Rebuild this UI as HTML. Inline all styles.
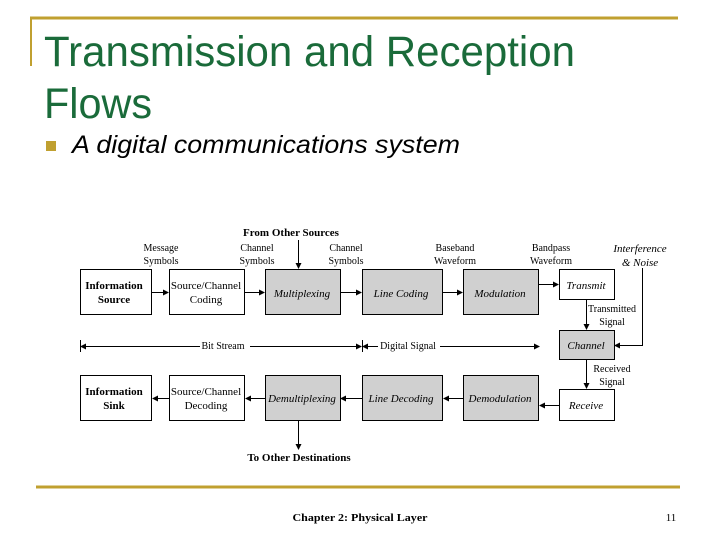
<!DOCTYPE html>
<html><head><meta charset="utf-8"><style>
html,body{margin:0;padding:0;background:#fff;}
svg{display:block;}
.s{font-family:"Liberation Serif",serif;font-size:10px;fill:#000;}
.b{font-family:"Liberation Serif",serif;font-size:11px;font-weight:bold;fill:#000;}
.i{font-family:"Liberation Serif",serif;font-size:11px;font-style:italic;fill:#000;}
.n{font-family:"Liberation Serif",serif;font-size:11px;fill:#000;}
</style></head><body>
<svg width="720" height="540" viewBox="0 0 720 540" xmlns="http://www.w3.org/2000/svg">
<defs><marker id="a" markerWidth="6" markerHeight="6" refX="5" refY="3" orient="auto" markerUnits="userSpaceOnUse"><path d="M0,0 L6,3 L0,6z" fill="#000"/></marker></defs>
<rect x="0" y="0" width="720" height="540" fill="#fff"/>
<path d="M30,18 H678" stroke="#c0a030" stroke-width="3"/>
<path d="M31,18 V66" stroke="#c0a030" stroke-width="2"/>
<text x="44" y="66" font-family="Liberation Sans,sans-serif" font-size="43" fill="#1a6b3a" textLength="531" lengthAdjust="spacingAndGlyphs">Transmission and Reception</text>
<text x="44" y="118" font-family="Liberation Sans,sans-serif" font-size="43" fill="#1a6b3a" textLength="108" lengthAdjust="spacingAndGlyphs">Flows</text>
<rect x="46" y="141" width="10" height="10" fill="#c0a030"/>
<text x="72" y="153" font-family="Liberation Sans,sans-serif" font-size="25" font-style="italic" fill="#000" textLength="388" lengthAdjust="spacingAndGlyphs">A digital communications system</text>
<path d="M36,487 H680" stroke="#c0a030" stroke-width="3"/>
<text x="360" y="521" text-anchor="middle" class="n" font-size="12.5" font-weight="bold" textLength="135" lengthAdjust="spacingAndGlyphs">Chapter 2: Physical Layer</text>
<text x="671" y="521" text-anchor="middle" class="n" font-size="12.5">11</text>

<g stroke="#000" stroke-width="1" fill="none">
<rect x="80.5" y="269.5" width="71" height="45" fill="#fff"/>
<rect x="169.5" y="269.5" width="75" height="45" fill="#fff"/>
<rect x="265.5" y="269.5" width="75" height="45" fill="#d0d0d0"/>
<rect x="362.5" y="269.5" width="80" height="45" fill="#d0d0d0"/>
<rect x="463.5" y="269.5" width="75" height="45" fill="#d0d0d0"/>
<rect x="559.5" y="269.5" width="55" height="30" fill="#fff"/>
<rect x="559.5" y="330.5" width="55" height="29" fill="#d0d0d0"/>
<rect x="559.5" y="389.5" width="55" height="31" fill="#fff"/>
<rect x="80.5" y="375.5" width="71" height="45" fill="#fff"/>
<rect x="169.5" y="375.5" width="75" height="45" fill="#fff"/>
<rect x="265.5" y="375.5" width="75" height="45" fill="#d0d0d0"/>
<rect x="362.5" y="375.5" width="80" height="45" fill="#d0d0d0"/>
<rect x="463.5" y="375.5" width="75" height="45" fill="#d0d0d0"/>
</g>
<g stroke="#000" stroke-width="1" fill="none" marker-end="url(#a)">
<path d="M152,292.5 H168"/>
<path d="M245,292.5 H264"/>
<path d="M341,292.5 H361"/>
<path d="M443,292.5 H462"/>
<path d="M539,284.5 H558"/>
<path d="M586.5,300 V329"/>
<path d="M586.5,360 V388"/>
<path d="M642.5,268 V345.5 H615"/>
<path d="M559,405.5 H540"/>
<path d="M463,398.5 H444"/>
<path d="M362,398.5 H341"/>
<path d="M265,398.5 H246"/>
<path d="M169,398.5 H153"/>
<path d="M298.5,240 V268"/>
<path d="M298.5,421 V449"/>
<path d="M200,346.5 H81"/>
<path d="M250,346.5 H361"/>
<path d="M378,346.5 H363"/>
<path d="M440,346.5 H539"/>
</g>
<path d="M80.5,340 V352 M362.5,340 V352" stroke="#000"/>

<text x="291" y="236" text-anchor="middle" class="b">From Other Sources</text>
<text x="299" y="461" text-anchor="middle" class="b">To Other Destinations</text>
<text x="161" y="251" text-anchor="middle" class="s">Message</text>
<text x="161" y="264" text-anchor="middle" class="s">Symbols</text>
<text x="257" y="251" text-anchor="middle" class="s">Channel</text>
<text x="257" y="264" text-anchor="middle" class="s">Symbols</text>
<text x="346" y="251" text-anchor="middle" class="s">Channel</text>
<text x="346" y="264" text-anchor="middle" class="s">Symbols</text>
<text x="455" y="251" text-anchor="middle" class="s">Baseband</text>
<text x="455" y="264" text-anchor="middle" class="s">Waveform</text>
<text x="551" y="251" text-anchor="middle" class="s">Bandpass</text>
<text x="551" y="264" text-anchor="middle" class="s">Waveform</text>
<text x="640" y="252" text-anchor="middle" class="i" font-size="10.5">Interference</text>
<text x="640" y="266" text-anchor="middle" class="i" font-size="10.5">&amp; Noise</text>
<text x="114" y="289" text-anchor="middle" class="b" font-size="10.5">Information</text>
<text x="114" y="303" text-anchor="middle" class="b" font-size="10.5">Source</text>
<text x="206" y="289" text-anchor="middle" class="n">Source/Channel</text>
<text x="206" y="303" text-anchor="middle" class="n">Coding</text>
<text x="302" y="297" text-anchor="middle" class="i">Multiplexing</text>
<text x="401" y="297" text-anchor="middle" class="i">Line Coding</text>
<text x="500" y="297" text-anchor="middle" class="i">Modulation</text>
<text x="586" y="289" text-anchor="middle" class="i" font-size="10">Transmit</text>
<text x="612" y="312" text-anchor="middle" class="s">Transmitted</text>
<text x="612" y="325" text-anchor="middle" class="s">Signal</text>
<text x="586" y="349" text-anchor="middle" class="i">Channel</text>
<text x="612" y="372" text-anchor="middle" class="s">Received</text>
<text x="612" y="385" text-anchor="middle" class="s">Signal</text>
<text x="586" y="409" text-anchor="middle" class="i" font-size="10">Receive</text>
<text x="223" y="349" text-anchor="middle" class="s">Bit Stream</text>
<text x="408" y="349" text-anchor="middle" class="s">Digital Signal</text>
<text x="114" y="395" text-anchor="middle" class="b" font-size="10.5">Information</text>
<text x="114" y="409" text-anchor="middle" class="b" font-size="10.5">Sink</text>
<text x="206" y="395" text-anchor="middle" class="n">Source/Channel</text>
<text x="206" y="409" text-anchor="middle" class="n">Decoding</text>
<text x="302" y="402" text-anchor="middle" class="i">Demultiplexing</text>
<text x="401" y="402" text-anchor="middle" class="i">Line Decoding</text>
<text x="500" y="402" text-anchor="middle" class="i">Demodulation</text>
</svg>
</body></html>
